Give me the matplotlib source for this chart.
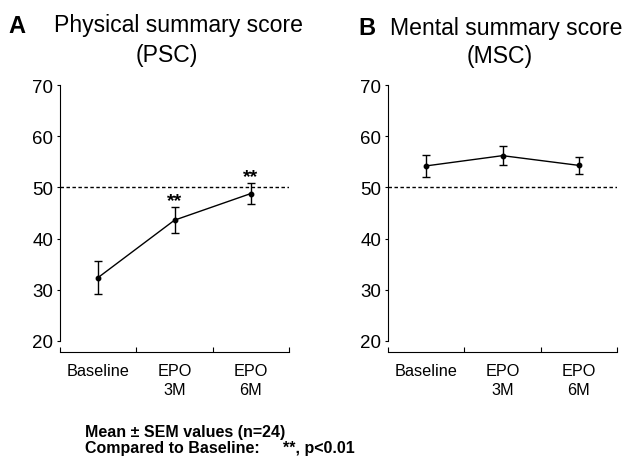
import matplotlib
matplotlib.use("Agg")
from matplotlib import pyplot as plt

plt.rcParams['font.family'] = ['Liberation Sans', 'DejaVu Sans']

kategorie = ["Baseline", "EPO\n3M", "EPO\n6M"]
psc_mean = [32.4, 43.6, 48.8]
psc_sem = [3.2, 2.5, 2.1]
msc_mean = [54.2, 56.2, 54.3]
msc_sem = [2.2, 1.8, 1.6]
gwiazdki_psc = ["", "**", "**"]
linia_ref = 50

W, H = 624, 460
fig = plt.figure(figsize=(6.24, 4.6), dpi=100)
ax_a = fig.add_axes([60 / W, 1 - 342 / H, 229 / W, 256 / H])
ax_b = fig.add_axes([388 / W, 1 - 342 / H, 229 / W, 256 / H])


def rysuj_panel(ax, srednie, sem, gwiazdki=None):
    x = range(len(srednie))
    ax.errorbar(x, srednie, yerr=sem, color="black", lw=1.0, marker="o", ms=3.2,
                capsize=2.6, capthick=1.0, elinewidth=1.0)
    ax.axhline(linia_ref, color="black", lw=1.0, ls=(0, (2.5, 1.8)))
    if gwiazdki:
        for i, g in enumerate(gwiazdki):
            if g:
                ax.annotate(g, xy=(i, srednie[i] + sem[i]), xytext=(0, 1.3),
                            textcoords="offset points", ha="center", va="baseline",
                            fontsize=14, fontweight="bold")
    ax.set_xlim(-0.5, len(srednie) - 0.5)
    ax.set_ylim(20, 70)
    ax.set_yticks([20, 30, 40, 50, 60, 70])
    ax.tick_params(axis="y", direction="out", length=2.5, width=0.8, labelsize=13.5, pad=2.5)
    ax.set_xticks([i - 0.5 for i in range(len(srednie) + 1)])
    ax.set_xticklabels([])
    ax.tick_params(axis="x", which="major", direction="in", length=3.6, width=0.8)
    ax.set_xticks(list(x), minor=True)
    ax.set_xticklabels(kategorie, minor=True)
    ax.tick_params(axis="x", which="minor", length=0, pad=8, labelsize=11.7)
    ax.spines["top"].set_visible(False)
    ax.spines["right"].set_visible(False)
    ax.spines["bottom"].set_position(("outward", 8.2))
    ax.spines["left"].set_linewidth(0.8)
    ax.spines["bottom"].set_linewidth(0.8)
    for lbl in ax.get_xticklabels(minor=True):
        lbl.set_linespacing(1.3)


rysuj_panel(ax_a, psc_mean, psc_sem, gwiazdki_psc)
rysuj_panel(ax_b, msc_mean, msc_sem)

fig.text(8 / W, 1 - 33 / H, "A", fontsize=17, fontweight="bold", va="baseline")
fig.text(179 / W, 1 - 32 / H, "Physical summary score", fontsize=16.6, ha="center", va="baseline")
fig.text(167 / W, 1 - 62 / H, "(PSC)", fontsize=16.6, ha="center", va="baseline")
fig.text(358 / W, 1 - 35 / H, "B", fontsize=17, fontweight="bold", va="baseline")
fig.text(506 / W, 1 - 35 / H, "Mental summary score", fontsize=16.6, ha="center", va="baseline")
fig.text(500 / W, 1 - 63 / H, "(MSC)", fontsize=16.6, ha="center", va="baseline")

fig.text(85 / W, 1 - 437 / H, "Mean ± SEM values (n=24)", fontsize=11.5,
         fontweight="bold", va="baseline")
fig.text(85 / W, 1 - 453 / H, "Compared to Baseline:", fontsize=11.5, fontweight="bold", va="baseline")
fig.text(283 / W, 1 - 453 / H, "**, p<0.01", fontsize=11.5, fontweight="bold", va="baseline")

fig.savefig("out.png", dpi=100)
